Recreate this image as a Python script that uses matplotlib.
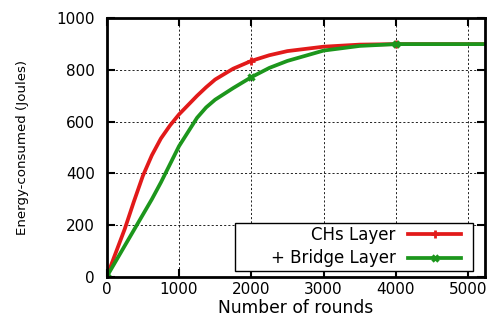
import matplotlib.pyplot as plt
from matplotlib.patches import Rectangle

# rounds sampled along the curves
rounds = [0, 250, 375, 500, 625, 750, 875, 1000, 1250, 1375, 1500, 1750, 2000,
          2250, 2500, 3000, 3500, 4000, 4500, 5000, 5230]
chs_layer = [0, 185, 290, 390, 470, 535, 585, 628, 700, 733, 763, 805, 835,
             857, 873, 890, 898, 900, 900, 900, 900]
bridge_layer = [0, 120, 180, 240, 300, 365, 435, 505, 615, 655, 685, 730, 772,
                808, 835, 875, 893, 900, 900, 900, 900]
marker_idx = [0, 12, 17]

plt.rcParams['font.family'] = ['DejaVu Sans']

fig = plt.figure(figsize=(4.93, 3.26), dpi=100)
ax = fig.add_axes([0.2164, 0.151, 0.767, 0.793])

ax.plot(rounds, chs_layer, color='#e21a1a', lw=2.7, marker='+', ms=6, mew=2,
        markevery=marker_idx, label='CHs Layer', zorder=3)
ax.plot(rounds, bridge_layer, color='#1c961c', lw=2.7, marker='x', ms=5, mew=2.4,
        markevery=marker_idx, label='+ Bridge Layer', zorder=3)

ax.set_xlim(0, 5230)
ax.set_ylim(0, 1000)
ax.set_xticks([0, 1000, 2000, 3000, 4000, 5000])
ax.set_yticks([0, 200, 400, 600, 800, 1000])
ax.grid(True, color='black', linestyle=(0, (2.5, 2.5)), lw=0.6)
ax.tick_params(direction='in', top=True, right=True, length=6, width=1.5,
               labelsize=11)
ax.tick_params(axis='x', pad=4)
ax.tick_params(axis='y', pad=8.5)
for s in ax.spines.values():
    s.set_linewidth(2)
    s.set_zorder(4)

ax.set_xlabel('Number of rounds', fontsize=12.3, labelpad=1)
ax.set_ylabel('Energy-consumed (Joules)', fontsize=9.6, labelpad=20)

# legend frame as drawn in the original (wider than its entries)
ax.add_patch(Rectangle((0.339, 0.022), 0.629, 0.187, transform=ax.transAxes,
                       facecolor='white', edgecolor='black', lw=1.0, zorder=5))
leg = ax.legend(loc='lower right', bbox_to_anchor=(0.938, 0.036),
                markerfirst=False, fontsize=12, frameon=False,
                borderaxespad=0, borderpad=0, handlelength=3.2,
                handletextpad=0.75, labelspacing=0.34)
leg.set_zorder(6)

fig.savefig('out.png', dpi=100)
